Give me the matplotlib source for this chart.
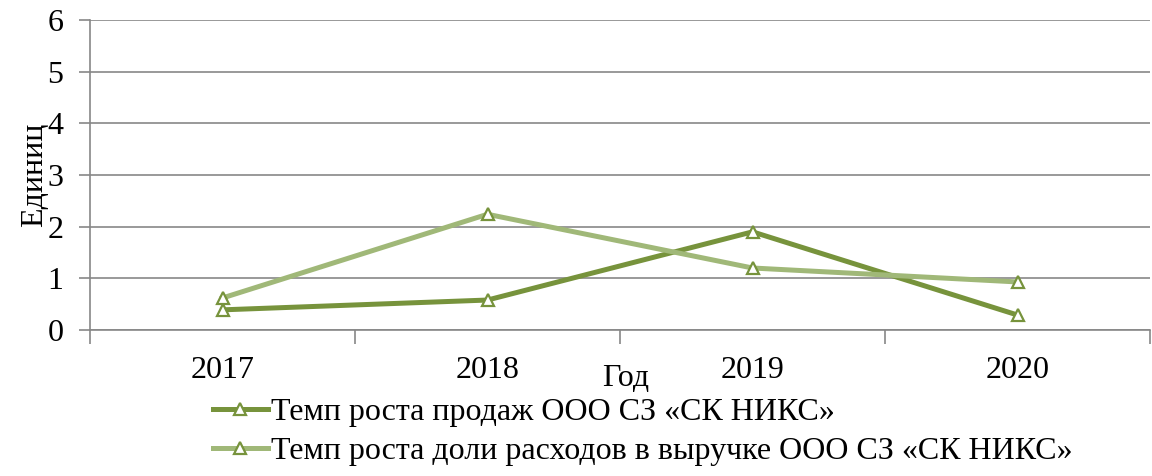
import matplotlib
matplotlib.use('Agg')
import matplotlib.pyplot as plt

plt.rcParams['font.family'] = ['Liberation Serif', 'DejaVu Serif']

years = ['2017', '2018', '2019', '2020']
sales_growth = [0.39, 0.58, 1.90, 0.29]
cost_share_growth = [0.62, 2.24, 1.20, 0.93]

label_sales = 'Темп роста продаж ООО СЗ «СК НИКС»'
label_cost = 'Темп роста доли расходов в выручке ООО СЗ «СК НИКС»'

grid_col = '#878787'
dark = '#77933C'
light = '#A0B878'
fs = 23

fig = plt.figure(figsize=(11.52, 4.76), dpi=100)
ax = fig.add_axes([90/1152, 1 - 330/476, 1060/1152, 310/476])

x = range(len(years))
ax.plot(x, sales_growth, color=dark, lw=3.6, marker='^', ms=9,
        mfc='white', mec=dark, mew=1.6, label=label_sales, zorder=3)
ax.plot(x, cost_share_growth, color=light, lw=3.6, marker='^', ms=9,
        mfc='white', mec=dark, mew=1.6, label=label_cost, zorder=3)

ax.set_xlim(-0.5, len(years) - 0.5)
ax.set_ylim(0, 6)
ax.set_yticks(range(0, 7))
ax.set_xticks([i - 0.5 for i in range(len(years) + 1)])
ax.set_xticklabels([])
ax.set_xticks(list(x), minor=True)
ax.set_xticklabels(years, minor=True)
ax.tick_params(axis='x', which='minor', length=0, pad=19, labelsize=fs)
ax.tick_params(axis='x', which='major', length=10, color=grid_col, width=1.2)
ax.tick_params(axis='y', length=8, color=grid_col, width=1.2, labelsize=fs, pad=11)

ax.grid(axis='y', color=grid_col, lw=1.2)
ax.set_axisbelow(True)
for s in ['top', 'right']:
    ax.spines[s].set_visible(False)
for s in ['left', 'bottom']:
    ax.spines[s].set_color(grid_col)
    ax.spines[s].set_linewidth(1.2)

ax.set_ylabel('Единиц', fontsize=fs)
ax.yaxis.set_label_coords(-41/1060, 0.5)
fig.text(626/1152, 1 - 378/476, 'Год', fontsize=fs, ha='center', va='center')

leg = fig.legend(loc='upper left', bbox_to_anchor=(213/1152, 1 - 398/476),
                 frameon=False, fontsize=fs, handlelength=1.72,
                 handletextpad=0.1, labelspacing=0.3, borderpad=0,
                 borderaxespad=0)

fig.savefig('out.png', dpi=100)
